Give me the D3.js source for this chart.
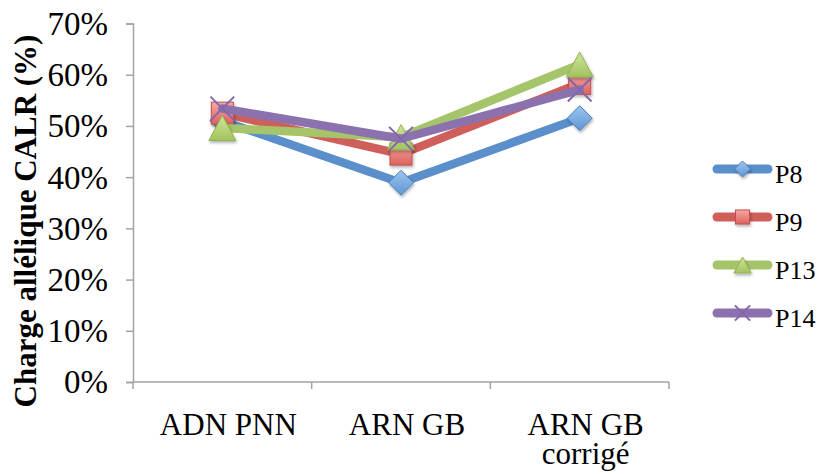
<!DOCTYPE html>
<html><head><meta charset="utf-8">
<script src="https://cdn.jsdelivr.net/npm/d3@7"></script>
<style>
html,body{margin:0;padding:0;background:#fff;}
</style></head>
<body>
<svg id="chart" width="820" height="472"></svg>
<script>
const categories = ["ADN PNN", "ARN GB", "ARN GB corrigé"];
const categoryLines = [["ADN PNN"], ["ARN GB"], ["ARN GB", "corrigé"]];
const seriesNames = ["P8", "P9", "P13", "P14"];
const P8  = [0.510, 0.389, 0.515];
const P9  = [0.525, 0.445, 0.583];
const P13 = [0.496, 0.478, 0.620];
const P14 = [0.534, 0.475, 0.571];
const yTicks = [0, 0.1, 0.2, 0.3, 0.4, 0.5, 0.6, 0.7];
const yTitle = "Charge allélique CALR (%)";

const seriesValues = [P8, P9, P13, P14];
const lineColors = ["#5A8FCB", "#CF5F5A", "#A6C46A", "#8B72AE"];
const markerTypes = ["diamond", "square", "triangle", "x"];
const FONT = "Liberation Serif";

const svg = d3.select("#chart");
const defs = svg.append("defs");
const grads = [
  ["gBlue", "#9cc6f0", "#5f95d3"],
  ["gRed", "#f7a8a4", "#dc625d"],
  ["gGreen", "#cfe59c", "#a2c35e"]
];
grads.forEach(([id, c1, c2]) => {
  const g = defs.append("linearGradient").attr("id", id).attr("x1", 0).attr("y1", 0).attr("x2", 0).attr("y2", 1);
  g.append("stop").attr("offset", "0%").attr("stop-color", c1);
  g.append("stop").attr("offset", "100%").attr("stop-color", c2);
});
const f = defs.append("filter").attr("id", "shadow").attr("x", "-50%").attr("y", "-50%").attr("width", "200%").attr("height", "200%");
f.append("feDropShadow").attr("dx", 1).attr("dy", 2).attr("stdDeviation", 1.5).attr("flood-color", "#000").attr("flood-opacity", 0.3);

const plotLeft = 133, plotRight = 669, plotTop = 23.5, plotBottom = 382;
const x = d3.scaleBand().domain(categories).range([plotLeft, plotRight]).padding(0);
const cx = c => x(c) + x.bandwidth() / 2;
const y = d3.scaleLinear().domain([0, 0.7]).range([plotBottom, plotTop]);

const axisColor = "#a3a3a3";
// Y axis
const yAxis = d3.axisLeft(y).tickValues(yTicks).tickSize(7).tickFormat(d3.format(".0%"));
const gy = svg.append("g").attr("transform", `translate(${plotLeft},0)`).call(yAxis)
  .attr("font-family", FONT).attr("font-size", 33);
gy.select(".domain").attr("stroke", axisColor).attr("stroke-width", 1.5);
gy.selectAll(".tick line").attr("stroke", axisColor).attr("stroke-width", 1.5);
gy.selectAll(".tick text").attr("x", -25).attr("dy", "0.33em")
  .attr("font-family", FONT).attr("font-size", 33).attr("fill", "#000");

// X axis
const xAxis = d3.axisBottom(x).tickSize(0).tickFormat("");
const gx = svg.append("g").attr("transform", `translate(0,${plotBottom})`).call(xAxis);
gx.selectAll(".tick").remove();
gx.select(".domain").attr("stroke", axisColor).attr("stroke-width", 1.5).attr("d", `M${plotLeft},0H${plotRight}`);
const boundaries = [x.range()[0]].concat(categories.map(c => x(c) + x.bandwidth()));
gx.selectAll(".bnd").data(boundaries).enter().append("line")
  .attr("x1", d => d).attr("x2", d => d).attr("y1", 0).attr("y2", 7)
  .attr("stroke", axisColor).attr("stroke-width", 1.5);
categories.forEach((c, i) => {
  const t = svg.append("text").attr("text-anchor", "middle").attr("font-family", FONT)
    .attr("font-size", 31).attr("fill", "#000");
  categoryLines[i].forEach((ln, j) => {
    t.append("tspan").attr("x", cx(c) + 6).attr("y", 435 + j * 29).text(ln);
  });
});

// Y title
svg.append("text").attr("transform", "translate(36,221) rotate(-90)")
  .attr("text-anchor", "middle").attr("font-family", FONT).attr("font-weight", "bold")
  .attr("font-size", 31).attr("fill", "#000")
  .text(yTitle);

function marker(g, type, px, py, s) {
  if (type === "diamond") {
    g.append("path").attr("d", `M${px},${py - s}L${px + s},${py}L${px},${py + s}L${px - s},${py}Z`)
      .attr("fill", "url(#gBlue)").attr("stroke", "#4a7fbf").attr("stroke-width", 1).attr("filter", "url(#shadow)");
  } else if (type === "square") {
    const h = s * 0.88;
    g.append("rect").attr("x", px - h).attr("y", py - h).attr("width", 2 * h).attr("height", 2 * h)
      .attr("fill", "url(#gRed)").attr("stroke", "#c0504d").attr("stroke-width", 1).attr("filter", "url(#shadow)");
  } else if (type === "triangle") {
    const w = s * 1.08;
    g.append("path").attr("d", `M${px},${py - s}L${px + w},${py + s}L${px - w},${py + s}Z`)
      .attr("fill", "url(#gGreen)").attr("stroke", "#93b452").attr("stroke-width", 1).attr("filter", "url(#shadow)");
  } else {
    const h = s * 0.95;
    g.append("path").attr("d", `M${px - h},${py - h}L${px + h},${py + h}M${px + h},${py - h}L${px - h},${py + h}`)
      .attr("stroke", "#8466ad").attr("stroke-width", 2).attr("fill", "none");
  }
}

const line = d3.line().x((d, i) => cx(categories[i])).y(d => y(d));
seriesValues.forEach((vals, si) => {
  const g = svg.append("g");
  g.append("path").datum(vals).attr("d", line).attr("fill", "none")
    .attr("stroke", lineColors[si]).attr("stroke-width", 8.5)
    .attr("stroke-linejoin", "round").attr("stroke-linecap", "round");
  vals.forEach((v, i) => marker(g, markerTypes[si], cx(categories[i]), y(v), 12.5));
});

// Legend
const lg = svg.append("g");
seriesNames.forEach((n, i) => {
  const ly = 169 + i * 48;
  lg.append("line").attr("x1", 717).attr("x2", 768).attr("y1", ly).attr("y2", ly)
    .attr("stroke", lineColors[i]).attr("stroke-width", 9).attr("stroke-linecap", "round");
  marker(lg, markerTypes[i], 742.5, ly, 8);
  lg.append("text").attr("x", 775).attr("y", ly + 13.5).attr("font-family", FONT)
    .attr("font-size", 26).attr("fill", "#000").text(n);
});
</script>
</body></html>
